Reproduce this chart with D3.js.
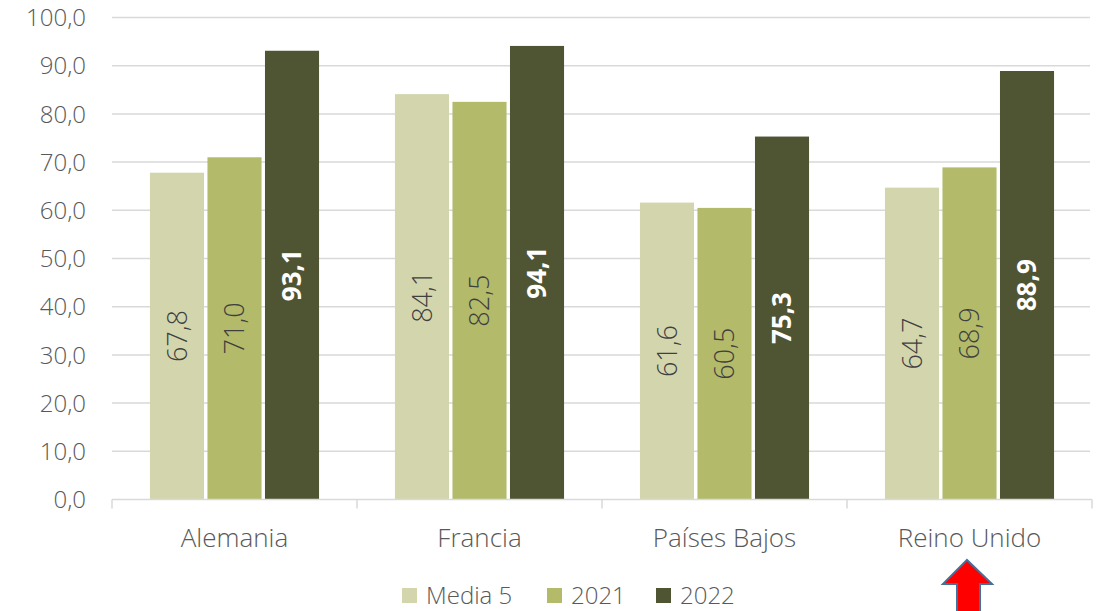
<!DOCTYPE html>
<html>
<head>
<meta charset="utf-8">
<script src="https://cdn.jsdelivr.net/npm/d3@7"></script>
<style>
  body { margin: 0; background: #fff; }
  svg { display: block; font-family: "Open Sans", sans-serif; }
</style>
</head>
<body>
<svg id="chart" width="1097" height="611"></svg>
<script>
const categories = ["Alemania", "Francia", "Países Bajos", "Reino Unido"];
const series = ["Media 5", "2021", "2022"];
const media5 = [67.8, 84.1, 61.6, 64.7];
const y2021 = [71.0, 82.5, 60.5, 68.9];
const y2022 = [93.1, 94.1, 75.3, 88.9];
const yTicks = [0, 10, 20, 30, 40, 50, 60, 70, 80, 90, 100];
const colors = ["#d3d6ad", "#b3ba6a", "#4f5432"];

const values = [media5, y2021, y2022];
const rows = [];
categories.forEach((c, i) => {
  series.forEach((s, j) => rows.push({ cat: c, ser: s, idx: j, v: values[j][i] }));
});

const svg = d3.select("#chart");
const fmt = v => d3.format(".1f")(v).replace(".", ",");

const x0 = d3.scaleBand().domain(categories).range([112, 1092]);
const x1 = d3.scaleBand().domain(series)
    .range([0, x0.bandwidth()])
    .paddingInner(0.06)
    .paddingOuter(0.66);
const y = d3.scaleLinear().domain([0, 100]).range([499.5, 17.5]);

// gridlines
svg.append("g")
  .selectAll("line")
  .data(yTicks.slice(1))
  .join("line")
    .attr("x1", 112).attr("x2", 1090)
    .attr("y1", d => y(d)).attr("y2", d => y(d))
    .attr("stroke", "#d9d9d9").attr("stroke-width", 1.5);

// y labels
svg.append("g")
  .selectAll("text")
  .data(yTicks)
  .join("text")
    .attr("x", 86)
    .attr("y", d => y(d))
    .attr("dy", "0.36em")
    .attr("text-anchor", "end")
    .attr("font-size", 24)
    .attr("font-weight", 300)
    .attr("fill", "#595959")
    .text(fmt);

// bars
svg.append("g")
  .selectAll("rect")
  .data(rows)
  .join("rect")
    .attr("x", d => x0(d.cat) + x1(d.ser))
    .attr("y", d => y(d.v))
    .attr("width", x1.bandwidth())
    .attr("height", d => y(0) - y(d.v))
    .attr("fill", d => colors[d.idx]);

// data labels
svg.append("g")
  .selectAll("text")
  .data(rows)
  .join("text")
    .attr("transform", d => {
      const cx = x0(d.cat) + x1(d.ser) + x1.bandwidth() / 2;
      const cy = (y(d.v) + y(0)) / 2;
      return `translate(${cx},${cy}) rotate(-90)`;
    })
    .attr("text-anchor", "middle")
    .attr("dy", "0.36em")
    .attr("font-size", d => d.idx === 2 ? 26 : 27)
    .attr("font-weight", d => d.idx === 2 ? 700 : 300)
    .attr("fill", d => d.idx === 2 ? "#ffffff" : "#404040")
    .text(d => fmt(d.v));

// x axis
const xAxis = svg.append("g");
xAxis.append("line")
  .attr("x1", 112).attr("x2", 1092)
  .attr("y1", y(0)).attr("y2", y(0))
  .attr("stroke", "#d9d9d9").attr("stroke-width", 1.5);
xAxis.selectAll("line.tick")
  .data(categories.map(c => x0(c)).concat([x0.range()[1]]))
  .join("line")
    .attr("class", "tick")
    .attr("x1", d => d).attr("x2", d => d)
    .attr("y1", y(0)).attr("y2", y(0) + 9)
    .attr("stroke", "#d9d9d9").attr("stroke-width", 1.5);
xAxis.selectAll("text")
  .data(categories)
  .join("text")
    .attr("x", d => x0(d) + x0.bandwidth() / 2)
    .attr("y", 547)
    .attr("text-anchor", "middle")
    .attr("font-size", 26)
    .attr("font-weight", 300)
    .attr("fill", "#595959")
    .text(d => d);

// legend
const legendX = [402, 547, 656];
const legend = svg.append("g");
series.forEach((s, i) => {
  legend.append("rect")
    .attr("x", legendX[i]).attr("y", 588)
    .attr("width", 15).attr("height", 15)
    .attr("fill", colors[i]);
  legend.append("text")
    .attr("x", legendX[i] + 24).attr("y", 604)
    .attr("font-size", 24)
    .attr("font-weight", 300)
    .attr("fill", "#595959")
    .text(s);
});

// red arrow
const arrow = [[967, 560], [992, 584], [980, 584], [980, 615], [957, 615], [957, 584], [943, 584]];
svg.append("path")
  .attr("d", d3.line()(arrow) + "Z")
  .attr("fill", "#ff0000")
  .attr("stroke", "#41719c")
  .attr("stroke-width", 2);
</script>
</body>
</html>
